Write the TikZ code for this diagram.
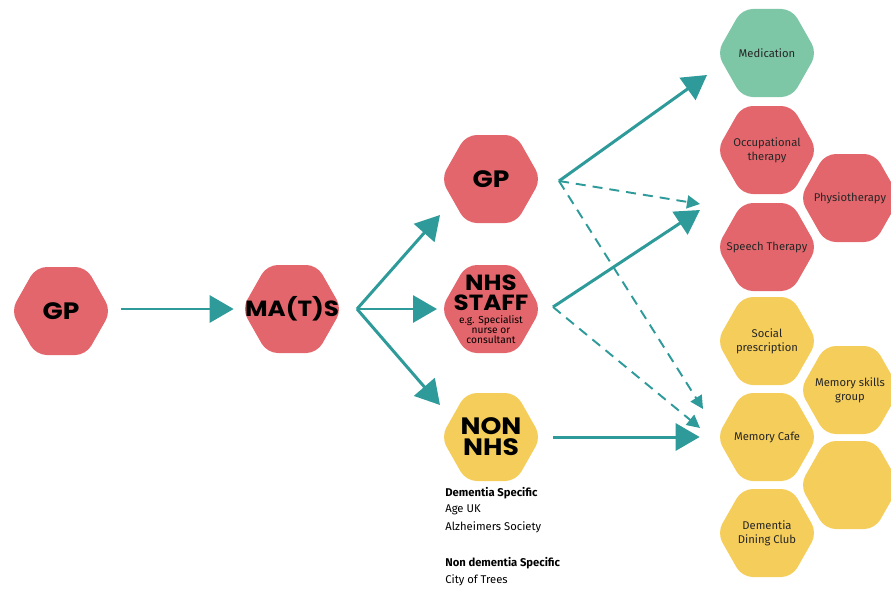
\documentclass[tikz,border=0pt]{standalone}
\usepackage{fontspec}
\setmainfont{Fira Sans}
\newfontfamily\headfont[FakeStretch=1.12]{Poppins}
\usetikzlibrary{arrows.meta}
\definecolor{hexred}{RGB}{227,102,108}
\definecolor{hexgreen}{RGB}{125,198,166}
\definecolor{hexyellow}{RGB}{245,205,90}
\definecolor{pathteal}{RGB}{46,154,154}
\def\hexagon[#1](#2,#3){\fill[#1, rounded corners=6pt] (#2-50, #3) -- (#2-25, #3-44) -- (#2+25, #3-44) -- (#2+50, #3) -- (#2+25, #3+44) -- (#2-25, #3+44) -- cycle;}
\def\notefont{\normalfont\fontsize{5.8}{5.6}\selectfont}
\tikzset{
	hexlabel/.style={minimum width=1.92cm, minimum height=1.76cm, inner sep=0pt, align=center, text=black!85, font=\fontsize{6.4}{8}\selectfont},
	headlabel/.style={hexlabel, text=black, font=\headfont\bfseries\fontsize{12.5}{11}\selectfont},
	bigpath/.style={draw=pathteal, line width=1.7pt, -{Triangle[length=0.48cm, width=0.54cm]}},
	dashpath/.style={draw=pathteal, line width=1.1pt, dash pattern=on 0.2cm off 0.14cm, -{Triangle[length=0.26cm, width=0.26cm]}},
	listtext/.style={anchor=west, inner sep=0pt, font=\fontsize{6.4}{8}\selectfont}
}

\begin{document}
\begin{tikzpicture}[x=0.02cm, y=-0.02cm]
			%%%%% START %%%%%
			\useasboundingbox (0, 0) rectangle (891, 588);
			
			\hexagon[hexred](61, 311)
			\hexagon[hexred](292, 309)
			\node[headlabel, font=\headfont\bfseries\fontsize{13.5}{11}\selectfont] (gpleft) at (61, 311) {GP};
			\node[headlabel] (mats) at (292, 309) {MA(T)S};
			
			\hexagon[hexred](491, 179)
			\hexagon[hexred](491, 309)
			\hexagon[hexyellow](491, 437)
			\node[headlabel, font=\headfont\bfseries\fontsize{13.5}{11}\selectfont] (gpmid) at (491, 179) {GP};
			\node[headlabel] (nhs) at (491, 311) {NHS\\STAFF\\[-3.5pt]{\notefont\begin{tabular}[t]{@{}c@{}}e.g. Specialist\\nurse or\\consultant\end{tabular}}};
			\node[headlabel, font=\headfont\bfseries\fontsize{13.5}{12}\selectfont] (nonnhs) at (491, 437) {NON\\NHS};
			
			\hexagon[hexgreen](767, 53)
			\hexagon[hexred](767, 150)
			\hexagon[hexred](850, 198)
			\hexagon[hexred](767, 247)
			\node[hexlabel] (medication) at (767, 53) {Medication};
			\node[hexlabel] (occupational) at (767, 150) {Occupational\\therapy};
			\node[hexlabel] (physio) at (850, 198) {Physiotherapy};
			\node[hexlabel] (speech) at (767, 247) {Speech Therapy};
			
			\hexagon[hexyellow](767, 341)
			\hexagon[hexyellow](850, 390)
			\hexagon[hexyellow](767, 437)
			\hexagon[hexyellow](850, 485)
			\hexagon[hexyellow](767, 533)
			\node[hexlabel] (social) at (767, 341) {Social\\prescription};
			\node[hexlabel] (skills) at (850, 390) {Memory skills\\group};
			\node[hexlabel] (cafe) at (767, 437) {Memory Cafe};
			\node[hexlabel] (dining) at (767, 533) {Dementia\\Dining Club};
			
			\node[listtext] (dementia) at (445, 493) {\bfseries Dementia Specific};
			\node[listtext] (ageuk) at (445, 510) {Age UK};
			\node[listtext] (alzheimers) at (445, 527) {Alzheimers Society};
			\node[listtext] (nondementia) at (445, 563) {\bfseries Non dementia Specific};
			\node[listtext] (trees) at (445, 580) {City of Trees};
			
			\coordinate (matsout) at (357, 309);
			\coordinate (gpin) at (440, 215);
			\coordinate (nhsin) at (437, 309);
			\coordinate (nonin) at (440, 405);
			\coordinate (gpout) at (559, 181);
			\coordinate (nhsout) at (553, 307);
			\coordinate (medin) at (707, 75);
			\coordinate (therhigh) at (700, 204);
			\coordinate (therlow) at (700, 210);
			\coordinate (sochigh) at (703, 409);
			\coordinate (soclow) at (700, 428);
			
			\draw[bigpath, shorten <=0.24cm, shorten >=0.2cm] (gpleft.east |- mats) -- (mats.west);
			\draw[bigpath] (matsout) -- (gpin);
			\draw[bigpath] (matsout) -- (nhsin);
			\draw[bigpath] (matsout) -- (nonin);
			
			\draw[bigpath] (gpout) -- (medin);
			\draw[dashpath] (gpout) -- (therhigh);
			\draw[dashpath] (gpout) -- (sochigh);
			\draw[bigpath] (nhsout) -- (therlow);
			\draw[dashpath] (nhsout) -- (soclow);
			\draw[bigpath, shorten <=0.28cm, shorten >=0.38cm] (nonnhs) -- (cafe);
			
			%%%%% END %%%%%
		\end{tikzpicture}
\end{document}
